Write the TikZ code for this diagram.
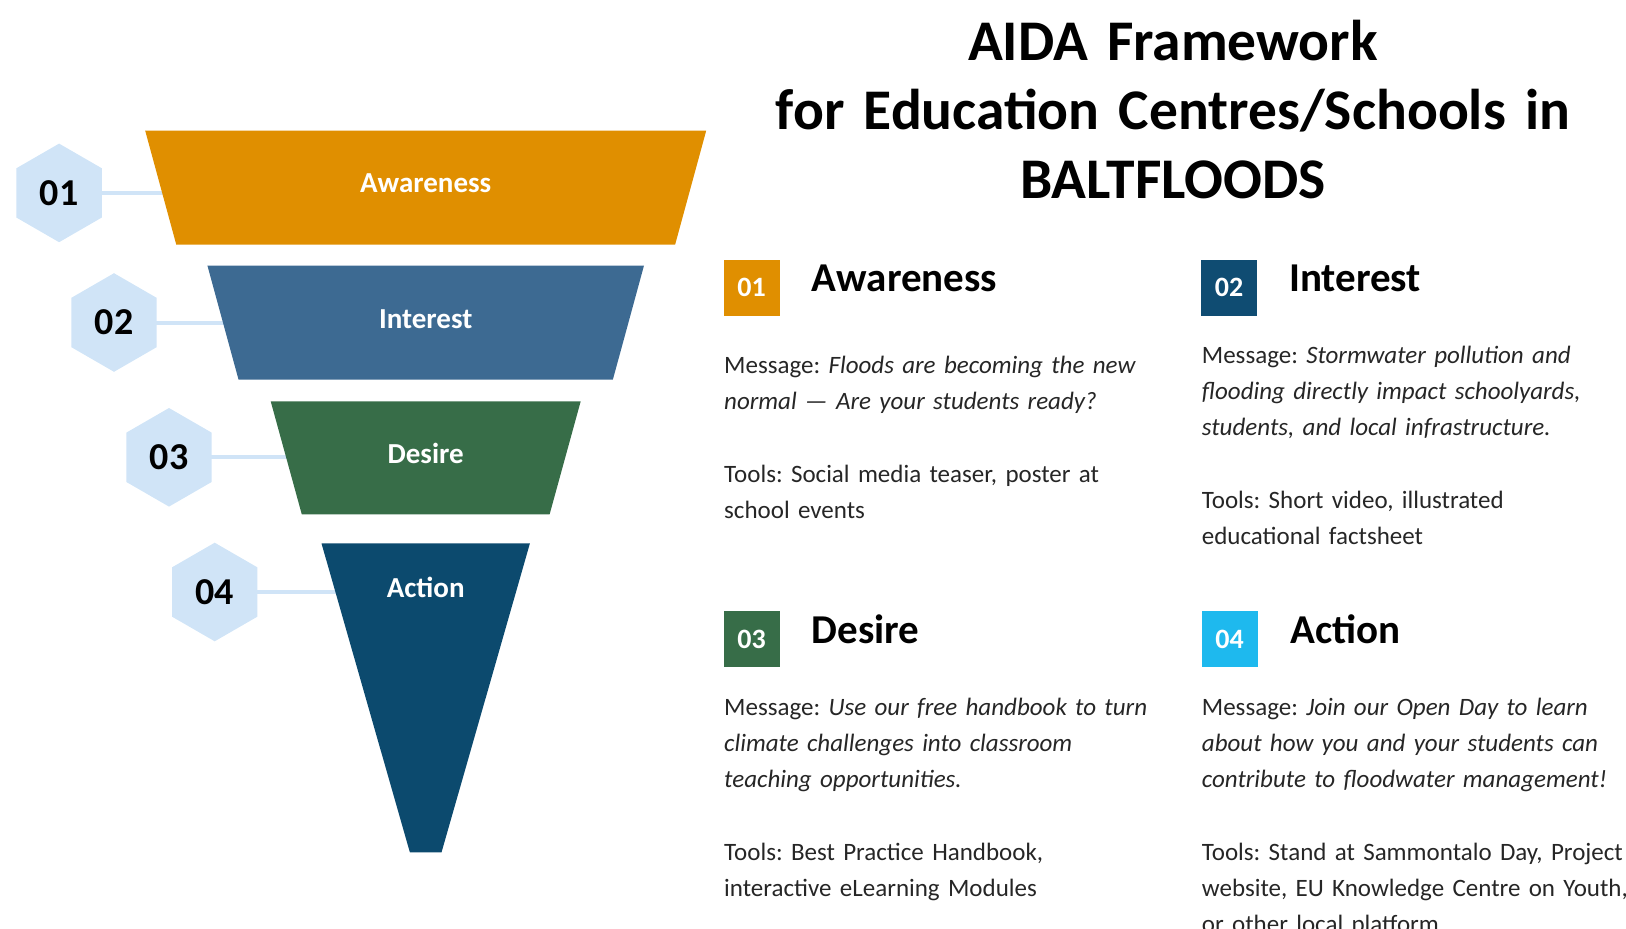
\documentclass[tikz,border=0pt]{standalone}
\usepackage{fontspec}
\setmainfont{Carlito}
\usetikzlibrary{shapes.geometric,backgrounds}
\frenchspacing

\definecolor{awarecol}{HTML}{E08F00}
\definecolor{interestcol}{HTML}{3D6A92}
\definecolor{desirecol}{HTML}{376D48}
\definecolor{actioncol}{HTML}{0C4A6E}
\definecolor{badgeblue}{HTML}{0F4C72}
\definecolor{badgecyan}{HTML}{1EB9EE}
\definecolor{hexcol}{HTML}{D0E4F7}
\definecolor{bodytext}{HTML}{262626}

\begin{document}
\begin{tikzpicture}[
        x=1pt, y=-1pt,
        stagelabel/.style={
            inner sep=0pt,
            text=white,
            font=\fontsize{29}{34}\selectfont\bfseries
        },
        hexnum/.style={
            regular polygon,
            regular polygon sides=6,
            shape border rotate=30,
            minimum size=98.6pt,
            inner sep=0pt,
            fill=hexcol,
            font=\fontsize{38}{44}\selectfont\bfseries
        },
        badge/.style={
            rectangle,
            minimum size=56pt,
            inner sep=0pt,
            text=white,
            font=\fontsize{28}{32}\selectfont\bfseries
        },
        heading/.style={
            anchor=base west,
            inner sep=0pt,
            font=\fontsize{41}{46}\selectfont\bfseries
        },
        body/.style={
            anchor=base west,
            inner sep=0pt,
            text width=470pt,
            align=left,
            text=bodytext,
            font=\fontsize{25}{36.3}\selectfont
        },
        title/.style={
            anchor=base,
            inner sep=0pt,
            text width=900pt,
            align=center,
            font=\fontsize{57.5}{69}\selectfont\bfseries
        },
        link/.style={draw=hexcol, line width=4pt}
    ]
    \clip (0,0) rectangle (1626,929);

    % Embudo
    \fill[awarecol] (145.2,130.7) -- (706.2,130.7) -- (675.1,244.7) -- (176.3,244.7) -- cycle;
    \fill[interestcol] (207.4,265.5) -- (644,265.5) -- (612.9,379.5) -- (238.5,379.5) -- cycle;
    \fill[desirecol] (270.7,401.3) -- (580.7,401.3) -- (549.6,514.4) -- (301.8,514.4) -- cycle;
    \fill[actioncol] (321.5,543.4) -- (529.9,543.4) -- (441.5,852.4) -- (409.9,852.4) -- cycle;

    \node[stagelabel] (aware) at (425.7, 183.5) {Awareness};
    \node[stagelabel] (interest) at (425.7, 319.4) {Interest};
    \node[stagelabel] (desire) at (425.7, 453.2) {Desire};
    \node[stagelabel] (action) at (425.7, 587) {Action};

    % Hexagonos numerados
    \node[hexnum] (h1) at (59.1, 192.9) {01};
    \node[hexnum] (h2) at (114, 322.5) {02};
    \node[hexnum] (h3) at (169, 457.3) {03};
    \node[hexnum] (h4) at (214.7, 592) {04};

    % Conexiones
    \begin{scope}[on background layer]
        \draw[link] (h1.center) -- (h1 -| aware.center);
        \draw[link] (h2.center) -- (h2 -| interest.center);
        \draw[link] (h3.center) -- (h3 -| desire.center);
        \draw[link] (h4.center) -- (h4 -| action.center);
    \end{scope}

    % Titulo
    \node[title] (titulo) at (1173, 60) {AIDA Framework\\for Education Centres/Schools in\\BALTFLOODS};

    % Tarjetas
    \node[badge, fill=awarecol] (b1) at (751.5, 287.5) {01};
    \node[heading] (t1) at (811.7, 291.7) {Awareness};
    \node[body] (c1) at (724, 373.3) {Message: \textit{Floods are becoming the new}\\
        \textit{normal — Are your students ready?}\\[36.3pt]
        Tools: Social media teaser, poster at\\
        school events};

    \node[badge, fill=badgeblue] (b2) at (1229, 287.5) {02};
    \node[heading] (t2) at (1289, 291.7) {Interest};
    \node[body] (c2) at (1201.7, 363.3) {Message: \textit{Stormwater pollution and}\\
        \textit{flooding directly impact schoolyards,}\\
        \textit{students, and local infrastructure.}\\[36.3pt]
        Tools: Short video, illustrated\\
        educational factsheet};

    \node[badge, fill=desirecol] (b3) at (751.5, 639) {03};
    \node[heading] (t3) at (811.7, 643.3) {Desire};
    \node[body] (c3) at (724, 715) {Message: \textit{Use our free handbook to turn}\\
        \textit{climate challenges into classroom}\\
        \textit{teaching opportunities.}\\[36.3pt]
        Tools: Best Practice Handbook,\\
        interactive eLearning Modules};

    \node[badge, fill=badgecyan] (b4) at (1229.5, 639) {04};
    \node[heading] (t4) at (1290, 643.3) {Action};
    \node[body] (c4) at (1201.7, 715) {Message: \textit{Join our Open Day to learn}\\
        \textit{about how you and your students can}\\
        \textit{contribute to floodwater management!}\\[36.3pt]
        Tools: Stand at Sammontalo Day, Project\\
        website, EU Knowledge Centre on Youth,\\
        or other local platform};
\end{tikzpicture}
\end{document}
